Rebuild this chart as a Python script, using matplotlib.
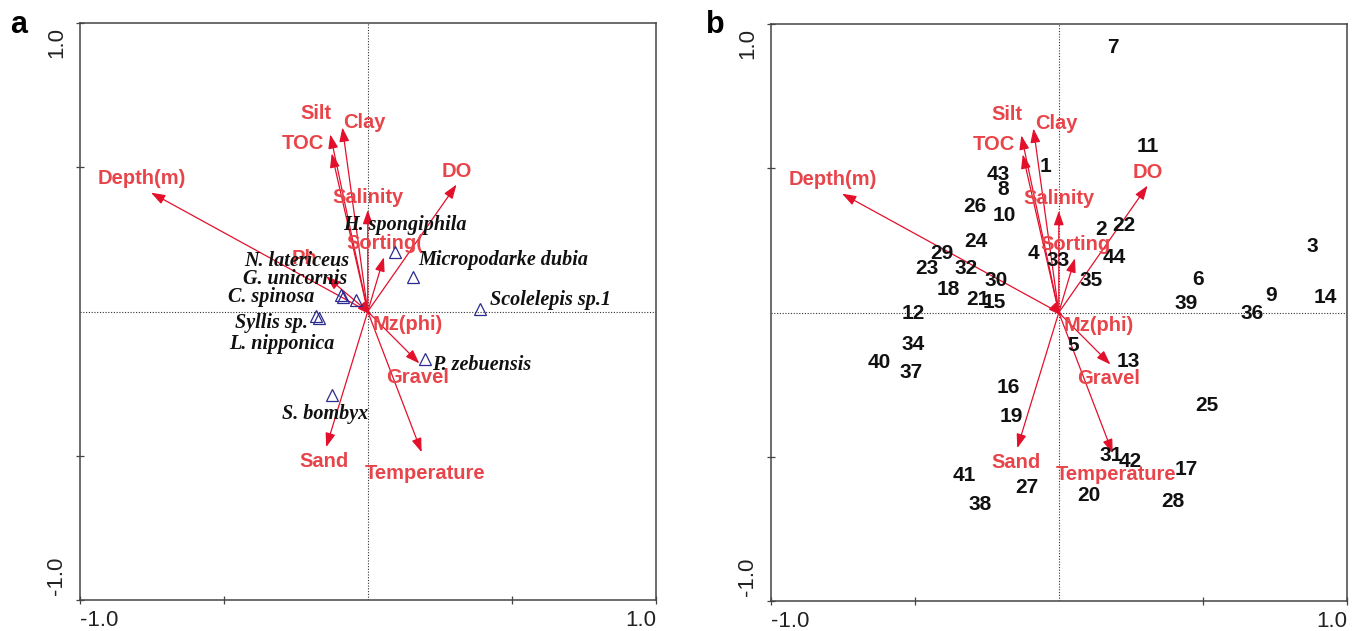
import matplotlib
matplotlib.use('Agg')
import matplotlib.pyplot as plt

# environmental vectors (arrow tips)
env_names = ['Depth(m)', 'Silt', 'TOC', 'Clay', 'Salinity', 'Sorting(', 'DO',
             'Ph', 'Mz(phi)', 'Gravel', 'Sand', 'Temperature']
env_x = [-0.752, -0.130, -0.125, -0.088, 0.000, 0.056, 0.308,
         -0.144, 0.012, 0.179, -0.144, 0.187]
env_y = [0.412, 0.614, 0.548, 0.638, 0.352, 0.188, 0.440,
         0.122, -0.012, -0.180, -0.470, -0.488]
# label centres for the vectors
env_lab_x = [-0.784, -0.181, -0.226, -0.010, 0.000, 0.059, 0.310,
             -0.220, 0.139, 0.174, -0.150, 0.200]
env_lab_y = [0.462, 0.686, 0.582, 0.655, 0.394, 0.237, 0.484,
             0.185, -0.045, -0.230, -0.519, -0.561]
# panel b has no Ph vector and "Sorting" is written without the bracket
env_names_b = ['Depth(m)', 'Silt', 'TOC', 'Clay', 'Salinity', 'Sorting', 'DO',
               None, 'Mz(phi)', 'Gravel', 'Sand', 'Temperature']

# species scores (panel a)
species = ['N. latericeus', 'G. unicornis', 'C. spinosa', 'Syllis sp.', 'L. nipponica',
           'H. spongiphila', 'Micropodarke dubia', 'Scolelepis sp.1', 'P. zebuensis',
           'S. bombyx']
sp_x = [-0.093, -0.086, -0.041, -0.181, -0.168, 0.095, 0.156, 0.388, 0.199, -0.125]
sp_y = [0.057, 0.051, 0.041, -0.015, -0.023, 0.207, 0.118, 0.008, -0.163, -0.290]
sp_lab_x = [-0.247, -0.253, -0.334, -0.334, -0.299, 0.130, 0.469, 0.634, 0.396, -0.149]
sp_lab_y = [0.176, 0.112, 0.052, -0.040, -0.113, 0.300, 0.177, 0.040, -0.187, -0.354]

# sample scores (panel b)
samples = list(range(1, 45))
smp_x = [-0.045, 0.146, 0.880, -0.089, 0.050, 0.484, 0.188, -0.193, 0.735, -0.190,
         0.309, -0.506, 0.241, 0.926, -0.225, -0.174, 0.443, -0.384, -0.164, 0.105,
         -0.280, 0.226, -0.456, -0.286, 0.513, -0.292, -0.112, 0.395, -0.404, -0.219,
         0.183, -0.320, -0.002, -0.506, 0.113, 0.669, -0.511, -0.272, 0.443, -0.624,
         -0.329, 0.249, -0.211, 0.194]
smp_y = [0.507, 0.287, 0.228, 0.203, -0.116, 0.116, 0.917, 0.425, 0.060, 0.336,
         0.576, -0.003, -0.170, 0.052, 0.035, -0.260, -0.544, 0.081, -0.359, -0.634,
         0.046, 0.301, 0.153, 0.245, -0.322, 0.367, -0.605, -0.656, 0.203, 0.112,
         -0.495, 0.153, 0.180, -0.110, 0.110, -0.002, -0.208, -0.665, 0.032, -0.174,
         -0.565, -0.518, 0.477, 0.191]

ARROW_C = '#e3102c'
LABEL_C = '#e8454b'
SANS = 'Liberation Sans'
SERIF = 'Liberation Serif'

fig = plt.figure(figsize=(13.59, 6.31), dpi=100)
ax_a = fig.add_axes([0.0585, 0.0491, 0.4242, 0.9144])
ax_b = fig.add_axes([0.5670, 0.0475, 0.4242, 0.9144])


def setup(ax):
    ax.set_xlim(-1, 1)
    ax.set_ylim(-1, 1)
    for s in ax.spines.values():
        s.set_color('#444444')
        s.set_linewidth(1.1)
    ax.set_xticks([-1, -0.5, 0.5, 1])
    ax.set_yticks([-1, -0.5, 0.5, 1])
    ax.tick_params(direction='inout', length=6, width=0.9, color='#444444',
                   labelbottom=False, labelleft=False)
    ax.axhline(0, color='#333333', lw=0.8, ls=(0, (1, 1.5)), zorder=1)
    ax.axvline(0, color='#333333', lw=0.8, ls=(0, (1, 1.5)), zorder=1)
    tk = dict(fontsize=16, family=SANS, color='#222222', textcoords='offset points')
    ax.annotate('-1.0', xy=(-1, -1), xytext=(0, -7), ha='left', va='top', **tk)
    ax.annotate('1.0', xy=(1, -1), xytext=(0, -7), ha='right', va='top', **tk)
    ax.annotate('-1.0', xy=(-1, -1), xytext=(-9, 3.5), ha='right', va='bottom',
                rotation=90, **tk)
    ax.annotate('1.0', xy=(-1, 1), xytext=(-9, -3), ha='right', va='top',
                rotation=90, **tk)


def draw_env(ax, names):
    for i, name in enumerate(names):
        if name is None:
            continue
        ax.annotate('', xy=(env_x[i], env_y[i]), xytext=(0, 0),
                    arrowprops=dict(arrowstyle='-|>,head_length=0.85,head_width=0.3',
                                    color=ARROW_C, lw=0.9, shrinkA=0, shrinkB=0),
                    zorder=3)
        ax.text(env_lab_x[i], env_lab_y[i], name, color=LABEL_C, fontsize=14.5,
                fontweight='bold', family=SANS, ha='center', va='center', zorder=4)


# panel a
setup(ax_a)
draw_env(ax_a, env_names)
ax_a.plot(sp_x, sp_y, ls='none', marker='^', ms=8, mfc='none', mec='#2b2b90',
          mew=0.9, zorder=5)
for i, name in enumerate(species):
    ax_a.text(sp_lab_x[i], sp_lab_y[i], name, fontsize=14.5, fontweight='bold',
              style='italic', family=SERIF, color='#111111', ha='center', va='center',
              zorder=6)

# panel b
setup(ax_b)
draw_env(ax_b, env_names_b)
for i, s in enumerate(samples):
    ax_b.text(smp_x[i], smp_y[i], str(s), fontsize=15, fontweight='bold',
              family=SANS, color='#111111', ha='center', va='center', zorder=6)

fig.text(10 / 1359, 1 - 10 / 631, 'a', fontsize=22, fontweight='bold', family=SANS,
         ha='left', va='top')
fig.text(706 / 1359, 1 - 10 / 631, 'b', fontsize=22, fontweight='bold', family=SANS,
         ha='left', va='top')

fig.savefig('out.png', dpi=100)
